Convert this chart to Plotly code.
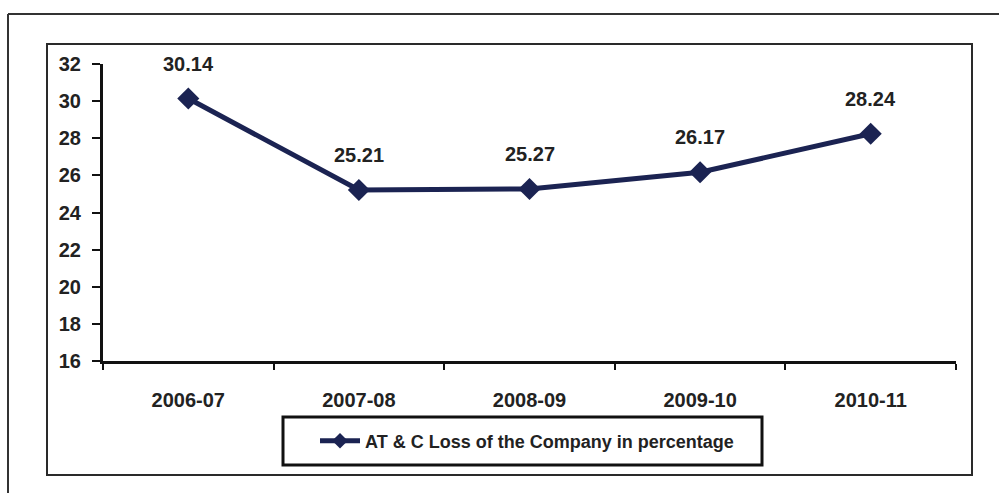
import plotly.graph_objects as go

# AT & C loss by financial year
years = ["2006-07", "2007-08", "2008-09", "2009-10", "2010-11"]
loss_pct = [30.14, 25.21, 25.27, 26.17, 28.24]
y_ticks = [16, 18, 20, 22, 24, 26, 28, 30, 32]

W, H = 999, 493
L, R, T, B = 103, 956, 64, 361  # plot-area edges in pixels

FONT = "Liberation Sans, Arial, sans-serif"
TXT = "#222222"
NAVY = "#1b2352"


def px(x):
    return (x - L) / (R - L)


def py(y):
    return (B - y) / (B - T)


fig = go.Figure()
fig.add_trace(go.Scatter(
    x=years, y=loss_pct,
    mode="lines+markers",
    name="AT & C Loss of the Company in percentage",
    line=dict(color=NAVY, width=5),
    marker=dict(symbol="diamond", size=17, color=NAVY),
    cliponaxis=False,
))

# value labels above each point
for yr, v in zip(years, loss_pct):
    fig.add_annotation(
        x=yr, y=v, text=f"{v:.2f}", showarrow=False,
        yshift=35, font=dict(family=FONT, size=20, color=TXT, weight="bold"),
    )

shapes = [
    # outer frame (top and left edges)
    dict(type="line", xref="paper", yref="paper", x0=px(8), x1=px(1010), y0=py(14), y1=py(14),
         line=dict(color="#333333", width=2)),
    dict(type="line", xref="paper", yref="paper", x0=px(8), x1=px(8), y0=py(14), y1=py(500),
         line=dict(color="#333333", width=2)),
    # inner chart box
    dict(type="rect", xref="paper", yref="paper", x0=px(47), x1=px(972), y0=py(44), y1=py(475),
         line=dict(color="#2a2a2a", width=2)),
    # legend box
    dict(type="rect", xref="paper", yref="paper", x0=px(283), x1=px(762), y0=py(417), y1=py(465),
         line=dict(color="#111111", width=3)),
]

fig.update_layout(
    width=W, height=H,
    margin=dict(l=L, r=W - R, t=T, b=H - B),
    paper_bgcolor="white", plot_bgcolor="white",
    shapes=shapes,
    showlegend=True,
    legend=dict(
        orientation="h",
        x=px(527), xanchor="center",
        y=py(441), yanchor="middle",
        bgcolor="rgba(0,0,0,0)",
        font=dict(family=FONT, size=18, color=TXT, weight="bold"),
        itemwidth=40,
        itemsizing="constant",
    ),
    xaxis=dict(
        type="category",
        tickson="boundaries",
        range=[-0.5, 4.5],
        showline=True, linecolor="#111111", linewidth=3,
        ticks="outside", ticklen=6, tickwidth=2, tickcolor="#111111",
        showgrid=False, zeroline=False,
        tickfont=dict(family=FONT, size=20, color=TXT, weight="bold"),
        ticklabelstandoff=19,
    ),
    yaxis=dict(
        range=[16, 32],
        tickvals=y_ticks,
        showline=True, linecolor="#111111", linewidth=3,
        ticks="outside", ticklen=8, tickwidth=2, tickcolor="#111111",
        showgrid=False, zeroline=False,
        tickfont=dict(family=FONT, size=20, color=TXT, weight="bold"),
        ticklabelstandoff=7,
    ),
)

fig.write_html("out.html")
